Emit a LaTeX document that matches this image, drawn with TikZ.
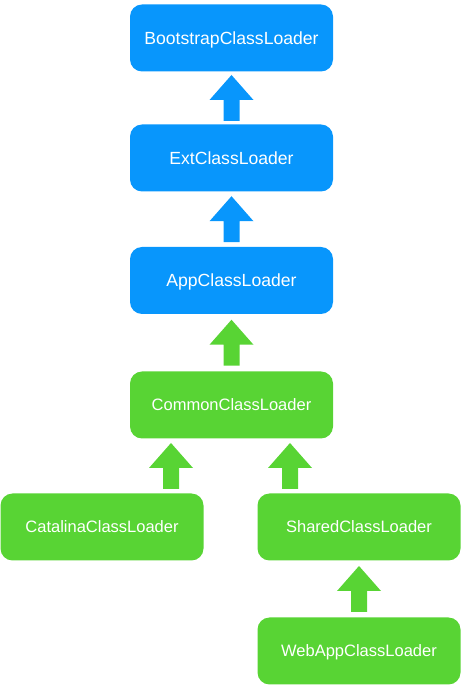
\documentclass[tikz,border=0pt]{standalone}
\usepackage{fontspec}
\setmainfont{Liberation Sans}
\usetikzlibrary{calc}
\definecolor{cblue}{RGB}{8,150,252}
\definecolor{cgreen}{RGB}{88,212,52}
\newcommand\blockup[4]{%
  \path (#2,0 |- #3.north) coordinate (s) (#2,0 |- #4.south) coordinate (e);
  \path ($(s)!0.5!(e)$) coordinate (m);
  \fill[#1] ($(m)+(-8,-23)$) -- ($(m)+(-8,-2)$) -- ($(m)+(-22,-2)$) -- ($(m)+(0,23)$)
    -- ($(m)+(22,-2)$) -- ($(m)+(8,-2)$) -- ($(m)+(8,-23)$) -- cycle;}
\begin{document}
\begin{tikzpicture}[x=1pt,y=1pt,
  loader/.style={rounded corners=12pt, minimum width=203pt, minimum height=67pt,
    text=white, text depth=0pt, inner sep=0pt},
  bluebox/.style={loader, fill=cblue, font=\fontsize{17.6}{20}\selectfont},
  greenbox/.style={loader, fill=cgreen, font=\fontsize{16.5}{19}\selectfont}]
\useasboundingbox (0,0) rectangle (461,686);
\node[bluebox] (boot) at (231.5,648) {BootstrapClassLoader};
\node[bluebox] (ext) at (231.5,528) {ExtClassLoader};
\node[bluebox] (app) at (231.5,405.5) {AppClassLoader};
\node[greenbox] (common) at (231.5,281) {CommonClassLoader};
\node[greenbox] (cat) at (102,159) {CatalinaClassLoader};
\node[greenbox] (shared) at (359,159) {SharedClassLoader};
\node[greenbox] (web) at (359,35) {WebAppClassLoader};
\blockup{cblue}{231.5}{ext}{boot}
\blockup{cblue}{231.5}{app}{ext}
\blockup{cgreen}{231.5}{common}{app}
\blockup{cgreen}{171}{cat}{common}
\blockup{cgreen}{290}{shared}{common}
\blockup{cgreen}{359}{web}{shared}
\end{tikzpicture}
\end{document}
